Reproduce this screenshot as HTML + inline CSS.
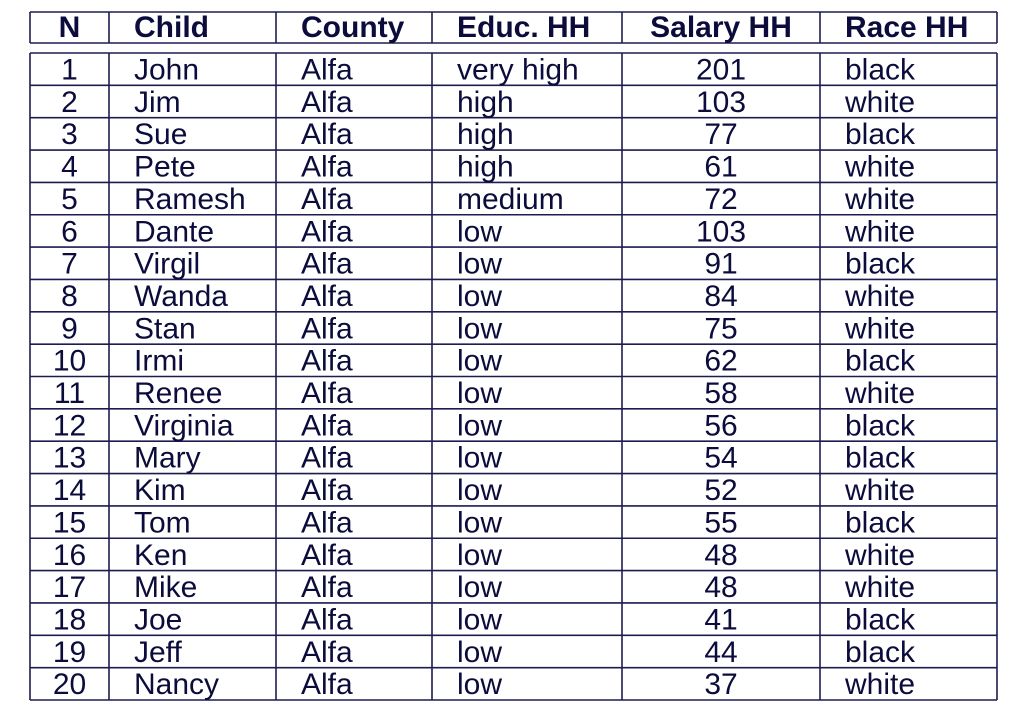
<!DOCTYPE html>
<html><head><meta charset="utf-8"><style>
html,body{margin:0;padding:0;background:#fff;width:1022px;height:712px;overflow:hidden}
svg{display:block}
text{font-family:"Liberation Sans",Arial,sans-serif;font-size:30px;fill:#0c0c3c}
.h{font-weight:bold}
</style></head><body>
<svg id="tbl" width="1022" height="712" xmlns="http://www.w3.org/2000/svg"></svg>
<script>
const headers=["N","Child","County","Educ. HH","Salary HH","Race HH"];
const names=["John","Jim","Sue","Pete","Ramesh","Dante","Virgil","Wanda","Stan","Irmi","Renee","Virginia","Mary","Kim","Tom","Ken","Mike","Joe","Jeff","Nancy"];
const counties=["Alfa","Alfa","Alfa","Alfa","Alfa","Alfa","Alfa","Alfa","Alfa","Alfa","Alfa","Alfa","Alfa","Alfa","Alfa","Alfa","Alfa","Alfa","Alfa","Alfa"];
const educ=["very high","high","high","high","medium","low","low","low","low","low","low","low","low","low","low","low","low","low","low","low"];
const salary=[201,103,77,61,72,103,91,84,75,62,58,56,54,52,55,48,48,41,44,37];
const race=["black","white","black","white","white","white","black","white","white","black","white","black","black","white","black","white","white","black","black","white"];

const svg=document.getElementById('tbl');
const NS="http://www.w3.org/2000/svg";
const cols=[30,109,276,432,622,820,997];
const headTop=12, headBot=43, bodyTop=53, rowH=32.35;
const stroke="#1c1c50";
function line(x1,y1,x2,y2){const l=document.createElementNS(NS,'line');
l.setAttribute('x1',x1);l.setAttribute('y1',y1);l.setAttribute('x2',x2);l.setAttribute('y2',y2);
l.setAttribute('stroke',stroke);l.setAttribute('stroke-width',1.6);


svg.appendChild(l);}
function txt(s,col,y,cls,name){const t=document.createElementNS(NS,'text');
const center=(col===0||col===4);
if(center){t.setAttribute('x',(cols[col]+cols[col+1])/2);t.setAttribute('text-anchor','middle');}
else t.setAttribute('x',cols[col]+25);
t.setAttribute('y',y);if(cls)t.setAttribute('class',cls);t.textContent=s;


svg.appendChild(t);}
line(cols[0],headTop,cols[6],headTop);line(cols[0],headBot,cols[6],headBot);
cols.forEach(x=>line(x,headTop,x,headBot));
headers.forEach((h,i)=>txt(h,i,37,'h','header-cell'));
const n=names.length, bodyBot=bodyTop+rowH*n;
for(let r=0;r<=n;r++)line(cols[0],bodyTop+r*rowH,cols[6],bodyTop+r*rowH);
cols.forEach(x=>line(x,bodyTop,x,bodyBot));
for(let r=0;r<n;r++){
 const y=bodyTop+r*rowH+26.5;
 txt(String(r+1),0,y,'','row-number');
 txt(names[r],1,y,'','child-cell');
 txt(counties[r],2,y,'','county-cell');
 txt(educ[r],3,y,'','education-cell');
 txt(String(salary[r]),4,y,'','salary-cell');
 txt(race[r],5,y,'','race-cell');
}
</script>
</body></html>
